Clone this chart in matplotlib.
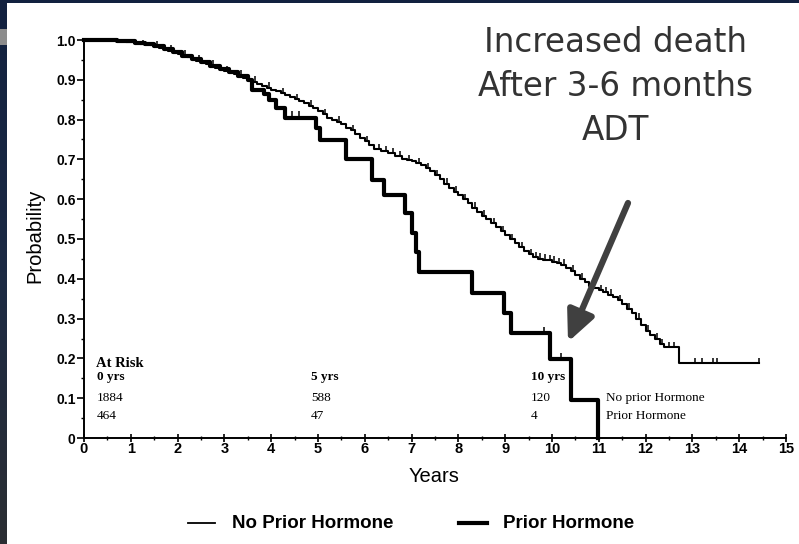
import numpy as np
import matplotlib
matplotlib.use("Agg")
import matplotlib.pyplot as plt
from matplotlib.patches import Rectangle, FancyArrowPatch
from matplotlib.lines import Line2D

# Kaplan-Meier estimates: step times (years) and survival after each step
no_prior_t = [0.0, 0.7, 0.9, 1.1, 1.2, 1.3, 1.4, 1.5, 1.6, 1.7, 1.8, 1.9, 2.0,
              2.1, 2.2, 2.3, 2.4, 2.5, 2.6, 2.7, 2.8, 2.9, 3.0, 3.1, 3.2, 3.3,
              3.4, 3.5, 3.6, 3.7, 3.8, 3.9, 4.0, 4.1, 4.2, 4.3, 4.4, 4.5, 4.6,
              4.7, 4.8, 4.9, 5.0, 5.1, 5.2, 5.3, 5.4, 5.5, 5.6, 5.7, 5.8, 5.9,
              6.0, 6.1, 6.2, 6.35, 6.5, 6.65, 6.8, 6.9, 7.0, 7.1, 7.2, 7.3,
              7.4, 7.5, 7.6, 7.7, 7.8, 7.9, 8.0, 8.1, 8.2, 8.3, 8.4, 8.5, 8.6,
              8.7, 8.8, 8.9, 9.0, 9.1, 9.2, 9.3, 9.4, 9.5, 9.6, 9.7, 9.8, 9.9,
              10.0, 10.1, 10.2, 10.3, 10.4, 10.5, 10.6, 10.7, 10.8, 10.9, 11.0,
              11.1, 11.2, 11.3, 11.4, 11.5, 11.6, 11.7, 11.8, 11.9, 12.0,
              12.1, 12.2, 12.3, 12.4, 12.72]
no_prior_s = [1.0, 0.998, 0.996, 0.993, 0.991, 0.989, 0.987, 0.984, 0.980,
              0.977, 0.973, 0.969, 0.965, 0.961, 0.957, 0.953, 0.948, 0.944,
              0.940, 0.935, 0.930, 0.926, 0.922, 0.919, 0.915, 0.910, 0.905,
              0.900, 0.895, 0.890, 0.885, 0.880, 0.875, 0.871, 0.866, 0.862,
              0.857, 0.852, 0.847, 0.841, 0.835, 0.829, 0.822, 0.813, 0.805,
              0.800, 0.795, 0.788, 0.780, 0.773, 0.765, 0.755, 0.745, 0.735,
              0.725, 0.720, 0.715, 0.708, 0.700, 0.698, 0.695, 0.690, 0.685,
              0.678, 0.670, 0.660, 0.650, 0.639, 0.628, 0.619, 0.610, 0.600,
              0.590, 0.579, 0.568, 0.559, 0.550, 0.540, 0.530, 0.520, 0.510,
              0.500, 0.490, 0.480, 0.470, 0.462, 0.455, 0.451, 0.448, 0.446,
              0.443, 0.439, 0.435, 0.428, 0.420, 0.410, 0.400, 0.391, 0.382,
              0.377, 0.372, 0.366, 0.360, 0.354, 0.347, 0.336, 0.325, 0.313,
              0.300, 0.285, 0.270, 0.260, 0.250, 0.235, 0.228, 0.188]
no_prior_end = 14.43
no_prior_censor = [0.3, 0.5, 0.6, 1.05, 1.25, 1.55, 1.85, 2.15, 2.45, 2.75,
                   3.05, 3.35, 3.65, 3.95, 4.25, 4.55, 4.85, 5.15, 5.45, 5.75,
                   6.05, 6.3, 6.45, 6.6, 6.75, 6.95, 7.15, 7.35, 7.55, 7.75,
                   7.95, 8.15, 8.35, 8.55, 8.75, 8.95, 9.15, 9.35, 9.55, 9.65,
                   9.75, 9.85, 9.95, 10.05, 10.15, 10.25, 10.45, 10.65, 10.85,
                   11.05, 11.15, 11.25, 11.45, 11.65, 11.85, 12.05, 12.25,
                   12.35, 12.5, 12.6, 13.05, 13.2, 13.45, 13.52, 14.43]

prior_t = [0.0, 0.7, 1.1, 1.3, 1.5, 1.7, 1.9, 2.1, 2.3, 2.5, 2.7, 2.9, 3.1,
           3.3, 3.5, 3.6, 3.85, 3.95, 4.1, 4.3, 4.95, 5.05, 5.6, 6.15, 6.4,
           6.85, 7.0, 7.1, 7.16, 8.3, 8.97, 9.12, 9.96, 10.4, 10.98]
prior_s = [1.0, 0.997, 0.993, 0.989, 0.984, 0.977, 0.969, 0.961, 0.953, 0.944,
           0.935, 0.926, 0.919, 0.910, 0.900, 0.875, 0.865, 0.850, 0.830,
           0.805, 0.780, 0.750, 0.700, 0.648, 0.610, 0.565, 0.515, 0.467,
           0.417, 0.364, 0.314, 0.264, 0.198, 0.095, 0.0]
prior_censor = [4.45, 4.6, 9.83, 10.2]

# Numbers at risk
risk_years = ["0 yrs", "5 yrs", "10 yrs"]
risk_no_prior = [1884, 588, 120]
risk_prior = [464, 47, 4]
risk_x = [0.28, 4.85, 9.55]

x_ticks = list(range(16))
y_ticks = [0, 0.1, 0.2, 0.3, 0.4, 0.5, 0.6, 0.7, 0.8, 0.9, 1.0]
y_tick_labels = ["0", "0.1", "0.2", "0.3", "0.4", "0.5", "0.6", "0.7", "0.8",
                 "0.9", "1.0"]

SANS = ["Liberation Sans", "DejaVu Sans"]
SERIF = ["Liberation Serif", "DejaVu Serif"]

W, H = 799, 544
fig = plt.figure(figsize=(W / 100, H / 100), dpi=100)
fig.patch.set_facecolor("white")

# Slide frame: navy strip at the top, gradient strip on the left
fig.patches.append(Rectangle((0, 1 - 3 / H), 1, 3 / H, transform=fig.transFigure,
                             facecolor="#12213f", edgecolor="none", zorder=0))
band = fig.add_axes([0, 0, 7 / W, 1])
band.axis("off")
grad = np.linspace(0, 1, 256)[:, None]
cmap = matplotlib.colors.LinearSegmentedColormap.from_list(
    "frame", ["#12213f", "#1c2a44", "#2b2e33"])
band.imshow(grad, aspect="auto", cmap=cmap, extent=[0, 1, 0, 1], origin="upper")
band.add_patch(Rectangle((0, 1 - 45 / H), 1, 16 / H, facecolor="#8c8c8c",
                         edgecolor="none"))
band.set_xlim(0, 1)
band.set_ylim(0, 1)

ax = fig.add_axes([84 / W, 106 / H, 702 / W, 398 / H])
ax.set_xlim(0, 15)
ax.set_ylim(0, 1.0)
for side in ("top", "right"):
    ax.spines[side].set_visible(False)
for side in ("left", "bottom"):
    ax.spines[side].set_linewidth(1.4)

# Curves
t1 = list(no_prior_t) + [no_prior_end]
s1 = list(no_prior_s) + [no_prior_s[-1]]
ax.step(t1, s1, where="post", color="black", lw=1.5, clip_on=False, zorder=3)
ax.step(prior_t, prior_s, where="post", color="black", lw=3.0, clip_on=False,
        zorder=3)


def surv_at(times, surv, c):
    idx = np.searchsorted(np.asarray(times), c, side="right") - 1
    return np.asarray(surv)[idx]


c1 = np.array(no_prior_censor)
ax.plot(c1, surv_at(no_prior_t, no_prior_s, c1) + 0.006, ls="none",
        marker="|", ms=5, mew=1.1, color="black", zorder=3)
c2 = np.array(prior_censor)
ax.plot(c2, surv_at(prior_t, prior_s, c2) + 0.008, ls="none",
        marker="|", ms=5, mew=1.1, color="black", zorder=3)

# Ticks
ax.set_xticks(x_ticks)
ax.set_xticklabels([str(v) for v in x_ticks])
ax.set_xticks(np.arange(0.5, 15, 1.0), minor=True)
ax.set_yticks(y_ticks)
ax.set_yticklabels(y_tick_labels)
ax.set_yticks(np.arange(0.05, 1.0, 0.1), minor=True)
ax.tick_params(axis="x", which="major", direction="inout", length=6, width=1.2,
               pad=0, labelsize=10.5)
ax.tick_params(axis="x", which="minor", direction="inout", length=3, width=1.0)
ax.tick_params(axis="y", which="major", direction="out", length=5, width=1.2,
               pad=1, labelsize=10)
ax.tick_params(axis="y", which="minor", direction="out", length=2.5, width=1.0)
for lab in ax.get_xticklabels() + ax.get_yticklabels():
    lab.set_fontfamily(SANS)
    lab.set_fontweight("bold")

ax.set_ylabel("Probability", fontsize=14.5, family=SANS)
ax.set_xlabel("Years", fontsize=14.5, family=SANS)
ax.xaxis.set_label_coords((434 - 84) / 702, -(476 - 438) / 398)
ax.yaxis.set_label_coords(-(84 - 35) / 702, (438 - 236) / 398)
ax.xaxis.label.set_va("center")
ax.yaxis.label.set_va("center")

# Numbers-at-risk table
ax.text(0.26, 0.188, "At Risk", family=SERIF, fontweight="bold", fontsize=10.5,
        va="center", ha="left")
for x, lab, n1, n2 in zip(risk_x, risk_years, risk_no_prior, risk_prior):
    ax.text(x, 0.153, lab, family=SERIF, fontweight="bold", fontsize=9.5,
            va="center", ha="left")
    ax.text(x, 0.101, str(n1), family=SERIF, fontsize=9.5, va="center", ha="left")
    ax.text(x, 0.055, str(n2), family=SERIF, fontsize=9.5, va="center", ha="left")
ax.text(11.16, 0.101, "No prior Hormone", family=SERIF, fontsize=9.5,
        va="center", ha="left")
ax.text(11.16, 0.055, "Prior Hormone", family=SERIF, fontsize=9.5,
        va="center", ha="left")

# Callout
for y, line in zip([42, 86, 131], ["Increased death", "After 3-6 months", "ADT"]):
    fig.text(615 / W, 1 - y / H, line, ha="center", va="center", fontsize=23.5,
             family=["DejaVu Sans"], color="#333333")
fig.add_artist(FancyArrowPatch(
    (628 / W, 1 - 203 / H), (568 / W, 1 - 342 / H), transform=fig.transFigure,
    arrowstyle="-|>,head_length=1.3,head_width=0.6", mutation_scale=14,
    lw=4.5, color="#404040", shrinkA=0, shrinkB=0))

# Legend below the plot
fig.add_artist(Line2D([188 / W, 215 / W], [1 - 523 / H] * 2, color="black",
                      lw=1.3, transform=fig.transFigure))
fig.text(232 / W, 1 - 523 / H, "No Prior Hormone", fontsize=13.5,
         fontweight="bold", family=SANS, va="center", ha="left")
fig.add_artist(Line2D([459 / W, 487 / W], [1 - 523 / H] * 2, color="black",
                      lw=3.0, transform=fig.transFigure))
fig.text(503 / W, 1 - 523 / H, "Prior Hormone", fontsize=13.5,
         fontweight="bold", family=SANS, va="center", ha="left")

fig.savefig("out.png", dpi=100, facecolor="white")
